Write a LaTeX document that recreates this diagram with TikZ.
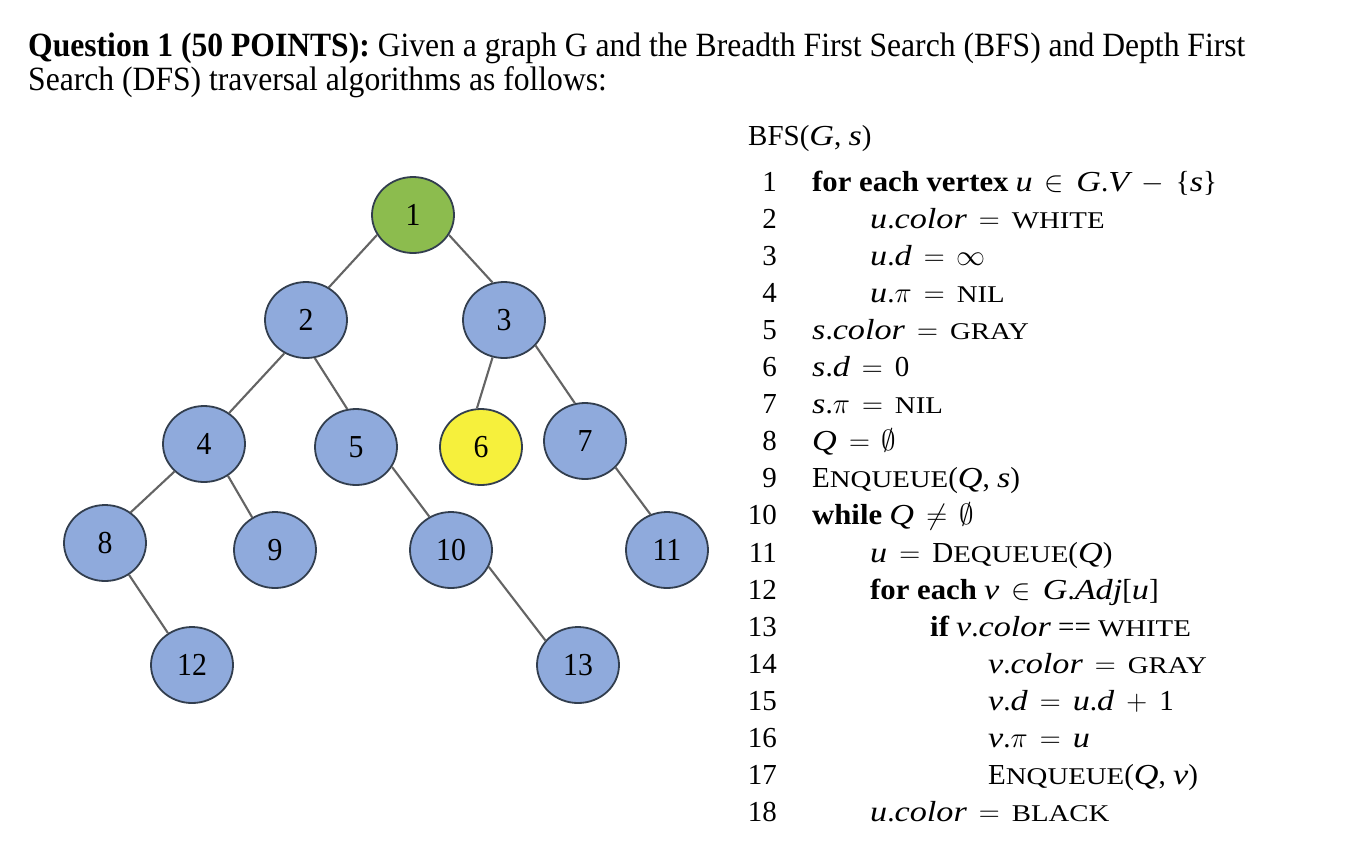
\RequirePackage{fix-cm}
\documentclass[tikz,border=0pt]{standalone}
\usepackage{fontspec}
\setmainfont{Liberation Serif}
\newfontfamily\titlefont[FakeStretch=0.93]{Liberation Serif}
\newfontfamily\codeitfont[FakeStretch=1.18]{Liberation Serif}
\newfontfamily\codescfont[FakeStretch=1.2]{Liberation Serif}
\newfontfamily\codebffont[FakeStretch=1.06]{Liberation Serif}
\usetikzlibrary{shapes.geometric}
\definecolor{nodeblue}{RGB}{143,170,220}
\definecolor{nodegreen}{RGB}{140,188,78}
\definecolor{nodeyellow}{RGB}{246,240,60}
\definecolor{nodeborder}{RGB}{50,62,78}
\definecolor{edgegray}{RGB}{100,100,100}
\newcommand\codefont{\fontsize{29}{29}\selectfont}
\newcommand\smc[1]{{\codescfont\fontsize{24}{24}\selectfont #1}}
\newcommand\vv[1]{{\codeitfont\itshape #1}}
\newcommand\kw[1]{{\codebffont\bfseries #1}}
\newcommand\eqsp{\ \,$=$\ \,}
\newcommand\opsp[1]{\ \,$#1$\ \,}
\tikzset{
  vtx/.style={ellipse, draw=nodeborder, line width=1.8pt, fill=nodeblue,
    minimum width=82pt, minimum height=76pt, inner sep=0pt,
    font=\titlefont\fontsize{32}{32}\selectfont},
  edge/.style={draw=edgegray, line width=2.1pt},
  codeline/.style={anchor=base west, inner sep=0pt, font=\codefont},
  lnum/.style={anchor=base east, inner sep=0pt, font=\codefont},
}
\begin{document}
\begin{tikzpicture}[x=1pt,y=-1pt]
\fill[white] (0,0) rectangle (1348,860);
\useasboundingbox (0,0) rectangle (1348,860);
% title
\node[anchor=base west, inner sep=0pt, font=\titlefont\fontsize{34}{34}\selectfont] (t1) at (28,56)
  {\textbf{Question 1 (50 POINTS):} Given a graph G and the Breadth First Search (BFS) and Depth First};
\node[anchor=base west, inner sep=0pt, font=\titlefont\fontsize{34}{34}\selectfont] (t2) at (28,90)
  {Search (DFS) traversal algorithms as follows:};
% tree
\node[vtx, fill=nodegreen] (n1) at (413,215) {1};
\node[vtx] (n2) at (306,320) {2};
\node[vtx] (n3) at (504,320) {3};
\node[vtx] (n4) at (204,444) {4};
\node[vtx] (n5) at (356,447) {5};
\node[vtx, fill=nodeyellow] (n6) at (481,447) {6};
\node[vtx] (n7) at (585,441) {7};
\node[vtx] (n8) at (105,543) {8};
\node[vtx] (n9) at (275,550) {9};
\node[vtx] (n10) at (451,550) {10};
\node[vtx] (n11) at (667,550) {11};
\node[vtx] (n12) at (192,665) {12};
\node[vtx] (n13) at (578,665) {13};
\draw[edge] (n1.209) -- (n2.55);
\draw[edge] (n1.331) -- (n3.107);
\draw[edge] (n2.237) -- (n4.51);
\draw[edge] (n2.283) -- (n5.103);
\draw[edge] (n3.253) -- (n6.96);
\draw[edge] (n3.321) -- (n7.105);
\draw[edge] (n4.223) -- (n8.50);
\draw[edge] (n4.307) -- (n9.125);
\draw[edge] (n5.331) -- (n10.123);
\draw[edge] (n7.319) -- (n11.115);
\draw[edge] (n8.307) -- (n12.127);
\draw[edge] (n10.336) -- (n13.143);
% code
\node[codeline] (hdr) at (748,145) {BFS(\vv{G}, \vv{s})};
\foreach \i in {1,...,18} {
  \node[lnum] (ln\i) at (777,{191+(\i-1)*37.1}) {\i};
}
\node[codeline] (c1) at (812,191) {\kw{for each vertex} \vv{u}\opsp{\in}\vv{G}.\vv{V}\opsp{-}\{\vv{s}\}};
\node[codeline] (c2) at (870,228.1) {\vv{u}.\vv{color}\eqsp\smc{WHITE}};
\node[codeline] (c3) at (870,265.2) {\vv{u}.\vv{d}\eqsp$\infty$};
\node[codeline] (c4) at (870,302.3) {\vv{u}.$\pi$\eqsp\smc{NIL}};
\node[codeline] (c5) at (812,339.4) {\vv{s}.\vv{color}\eqsp\smc{GRAY}};
\node[codeline] (c6) at (812,376.5) {\vv{s}.\vv{d}\eqsp0};
\node[codeline] (c7) at (812,413.6) {\vv{s}.$\pi$\eqsp\smc{NIL}};
\node[codeline] (c8) at (812,450.7) {\vv{Q}\eqsp$\emptyset$};
\node[codeline] (c9) at (812,487.8) {E\smc{NQUEUE}(\vv{Q}, \vv{s})};
\node[codeline] (c10) at (812,524.9) {\kw{while} \vv{Q}\opsp{\neq}$\emptyset$};
\node[codeline] (c11) at (870,562.0) {\vv{u}\eqsp D\smc{EQUEUE}(\vv{Q})};
\node[codeline] (c12) at (870,599.1) {\kw{for each} \vv{v}\opsp{\in}\vv{G}.\vv{Adj}[\vv{u}]};
\node[codeline] (c13) at (930,636.2) {\kw{if} \vv{v}.\vv{color} == \smc{WHITE}};
\node[codeline] (c14) at (988,673.3) {\vv{v}.\vv{color}\eqsp\smc{GRAY}};
\node[codeline] (c15) at (988,710.4) {\vv{v}.\vv{d}\eqsp\vv{u}.\vv{d}\opsp{+}1};
\node[codeline] (c16) at (988,747.5) {\vv{v}.$\pi$\eqsp\vv{u}};
\node[codeline] (c17) at (988,784.6) {E\smc{NQUEUE}(\vv{Q}, \vv{v})};
\node[codeline] (c18) at (870,821.7) {\vv{u}.\vv{color}\eqsp\smc{BLACK}};
\end{tikzpicture}
\end{document}
